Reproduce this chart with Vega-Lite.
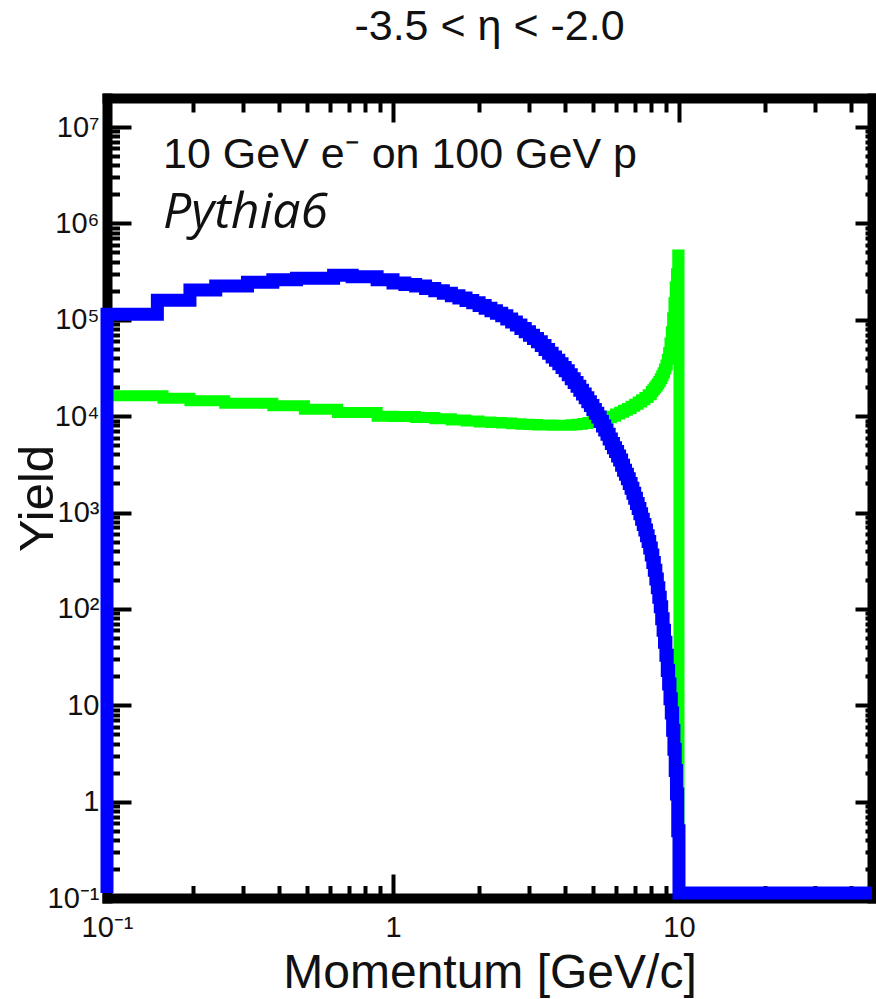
{
  "$schema": "https://vega.github.io/schema/vega-lite/v6.json",
  "width": 765,
  "height": 800,
  "autosize": {"type": "none"},
  "padding": {"left": 107, "top": 98, "right": 4, "bottom": 101},
  "background": "white",
  "config": {"view": {"stroke": null}},
  "title": {
    "text": "-3.5 < η < -2.0",
    "fontSize": 43,
    "font": "Liberation Sans",
    "fontWeight": "normal",
    "color": "#111111",
    "anchor": "middle",
    "frame": "group",
    "baseline": "alphabetic",
    "offset": 13
  },
  "datasets": {
    "blue": [
      {"p": 0.1, "yield": 0.113},
      {"p": 0.1, "yield": 114000},
      {"p": 0.15, "yield": 159000},
      {"p": 0.195, "yield": 203000},
      {"p": 0.24, "yield": 224000},
      {"p": 0.31, "yield": 245000},
      {"p": 0.38, "yield": 260000},
      {"p": 0.46, "yield": 270000},
      {"p": 0.62, "yield": 290000},
      {"p": 0.72, "yield": 280000},
      {"p": 0.88, "yield": 260000},
      {"p": 1.0, "yield": 240000},
      {"p": 1.1, "yield": 232000},
      {"p": 1.2, "yield": 224000},
      {"p": 1.3, "yield": 211000},
      {"p": 1.4, "yield": 200000},
      {"p": 1.5, "yield": 188000},
      {"p": 1.6, "yield": 178000},
      {"p": 1.7, "yield": 168000},
      {"p": 1.8, "yield": 158000},
      {"p": 1.9, "yield": 150000},
      {"p": 2.0, "yield": 141000},
      {"p": 2.1, "yield": 132000},
      {"p": 2.2, "yield": 124000},
      {"p": 2.3, "yield": 117000},
      {"p": 2.4, "yield": 110000},
      {"p": 2.5, "yield": 102000},
      {"p": 2.6, "yield": 95000},
      {"p": 2.7, "yield": 88000},
      {"p": 2.8, "yield": 81000},
      {"p": 2.9, "yield": 75000},
      {"p": 3.0, "yield": 69000},
      {"p": 3.1, "yield": 64000},
      {"p": 3.2, "yield": 59000},
      {"p": 3.3, "yield": 54000},
      {"p": 3.4, "yield": 49000},
      {"p": 3.5, "yield": 45000},
      {"p": 3.6, "yield": 41000},
      {"p": 3.7, "yield": 38000},
      {"p": 3.8, "yield": 35000},
      {"p": 3.9, "yield": 32000},
      {"p": 4.0, "yield": 29500},
      {"p": 4.1, "yield": 26900},
      {"p": 4.2, "yield": 24500},
      {"p": 4.3, "yield": 22400},
      {"p": 4.4, "yield": 20400},
      {"p": 4.5, "yield": 18600},
      {"p": 4.6, "yield": 17000},
      {"p": 4.7, "yield": 15500},
      {"p": 4.8, "yield": 14100},
      {"p": 4.9, "yield": 12900},
      {"p": 5.0, "yield": 11700},
      {"p": 5.1, "yield": 10700},
      {"p": 5.2, "yield": 9800},
      {"p": 5.3, "yield": 8800},
      {"p": 5.4, "yield": 7900},
      {"p": 5.5, "yield": 7200},
      {"p": 5.6, "yield": 6500},
      {"p": 5.7, "yield": 5800},
      {"p": 5.8, "yield": 5200},
      {"p": 5.9, "yield": 4700},
      {"p": 6.0, "yield": 4300},
      {"p": 6.1, "yield": 3850},
      {"p": 6.2, "yield": 3500},
      {"p": 6.3, "yield": 3100},
      {"p": 6.4, "yield": 2750},
      {"p": 6.5, "yield": 2500},
      {"p": 6.6, "yield": 2240},
      {"p": 6.7, "yield": 2000},
      {"p": 6.8, "yield": 1780},
      {"p": 6.9, "yield": 1580},
      {"p": 7.0, "yield": 1410},
      {"p": 7.1, "yield": 1240},
      {"p": 7.2, "yield": 1100},
      {"p": 7.3, "yield": 970},
      {"p": 7.4, "yield": 850},
      {"p": 7.5, "yield": 750},
      {"p": 7.6, "yield": 660},
      {"p": 7.7, "yield": 575},
      {"p": 7.8, "yield": 500},
      {"p": 7.9, "yield": 427},
      {"p": 8.0, "yield": 363},
      {"p": 8.1, "yield": 302},
      {"p": 8.2, "yield": 251},
      {"p": 8.3, "yield": 204},
      {"p": 8.4, "yield": 166},
      {"p": 8.5, "yield": 132},
      {"p": 8.6, "yield": 105},
      {"p": 8.7, "yield": 79},
      {"p": 8.8, "yield": 60},
      {"p": 8.9, "yield": 45},
      {"p": 9.0, "yield": 33},
      {"p": 9.1, "yield": 23},
      {"p": 9.2, "yield": 16.6},
      {"p": 9.3, "yield": 11.7},
      {"p": 9.4, "yield": 8.3},
      {"p": 9.5, "yield": 5.5},
      {"p": 9.6, "yield": 3.5},
      {"p": 9.7, "yield": 2.1},
      {"p": 9.8, "yield": 1.2},
      {"p": 9.9, "yield": 0.5},
      {"p": 10.0, "yield": 0.113},
      {"p": 47.3, "yield": 0.113}
    ],
    "green": [
      {"p": 0.1, "yield": 16300},
      {"p": 0.157, "yield": 15300},
      {"p": 0.195, "yield": 14400},
      {"p": 0.258, "yield": 13600},
      {"p": 0.38, "yield": 12800},
      {"p": 0.49, "yield": 11800},
      {"p": 0.64, "yield": 10900},
      {"p": 0.88, "yield": 10000},
      {"p": 1.0, "yield": 9900},
      {"p": 1.2, "yield": 9700},
      {"p": 1.4, "yield": 9400},
      {"p": 1.6, "yield": 9100},
      {"p": 1.8, "yield": 8900},
      {"p": 2.0, "yield": 8700},
      {"p": 2.2, "yield": 8600},
      {"p": 2.4, "yield": 8500},
      {"p": 2.6, "yield": 8350},
      {"p": 2.8, "yield": 8250},
      {"p": 3.0, "yield": 8170},
      {"p": 3.2, "yield": 8100},
      {"p": 3.4, "yield": 8070},
      {"p": 3.6, "yield": 8050},
      {"p": 3.8, "yield": 8050},
      {"p": 4.0, "yield": 8050},
      {"p": 4.2, "yield": 8130},
      {"p": 4.4, "yield": 8260},
      {"p": 4.6, "yield": 8400},
      {"p": 4.8, "yield": 8600},
      {"p": 5.0, "yield": 8800},
      {"p": 5.2, "yield": 9060},
      {"p": 5.4, "yield": 9300},
      {"p": 5.6, "yield": 9640},
      {"p": 5.8, "yield": 10000},
      {"p": 6.0, "yield": 10500},
      {"p": 6.2, "yield": 11000},
      {"p": 6.4, "yield": 11500},
      {"p": 6.6, "yield": 12000},
      {"p": 6.8, "yield": 12700},
      {"p": 7.0, "yield": 13300},
      {"p": 7.2, "yield": 14000},
      {"p": 7.4, "yield": 14800},
      {"p": 7.6, "yield": 15600},
      {"p": 7.8, "yield": 16700},
      {"p": 8.0, "yield": 18000},
      {"p": 8.1, "yield": 18800},
      {"p": 8.2, "yield": 19700},
      {"p": 8.3, "yield": 20700},
      {"p": 8.4, "yield": 21700},
      {"p": 8.5, "yield": 22900},
      {"p": 8.6, "yield": 24400},
      {"p": 8.7, "yield": 26200},
      {"p": 8.8, "yield": 28200},
      {"p": 8.9, "yield": 30800},
      {"p": 9.0, "yield": 33900},
      {"p": 9.1, "yield": 39000},
      {"p": 9.2, "yield": 45700},
      {"p": 9.3, "yield": 57500},
      {"p": 9.4, "yield": 75000},
      {"p": 9.5, "yield": 105000},
      {"p": 9.6, "yield": 150000},
      {"p": 9.7, "yield": 220000},
      {"p": 9.8, "yield": 300000},
      {"p": 9.9, "yield": 470000},
      {"p": 10.0, "yield": 0.113},
      {"p": 47.3, "yield": 0.113}
    ]
  },
  "resolve": {"axis": {"x": "independent", "y": "independent"}},
  "layer": [
    {
      "data": {"name": "green"},
      "mark": {"type": "line", "color": "#00ff00", "strokeWidth": 11, "interpolate": "step-after", "strokeJoin": "miter", "strokeCap": "butt", "clip": false},
      "encoding": {
        "order": {"value": null},
        "x": {
          "field": "p", "type": "quantitative",
          "scale": {"type": "log", "domain": [0.1, 47.3], "nice": false},
          "axis": {
            "orient": "top",
            "values": [0.1, 0.2, 0.3, 0.4, 0.5, 0.6, 0.7, 0.8, 0.9, 1, 2, 3, 4, 5, 6, 7, 8, 9, 10, 20, 30, 40],
            "labels": false, "title": null, "grid": false,
            "domainColor": "black", "domainWidth": 10, "domainCap": "square",
            "tickColor": "black", "tickWidth": 4,
            "tickSize": {"condition": {"test": "abs(log(datum.value)/LN10 - round(log(datum.value)/LN10)) < 0.01", "value": -24}, "value": -14}
          }
        },
        "y": {
          "field": "yield", "type": "quantitative",
          "scale": {"type": "log", "domain": [0.1, 20000000], "nice": false},
          "axis": {
            "orient": "right",
            "values": [0.1, 0.2, 0.3, 0.4, 0.5, 0.6, 0.7, 0.8, 0.9, 1, 2, 3, 4, 5, 6, 7, 8, 9, 10, 20, 30, 40, 50, 60, 70, 80, 90, 100, 200, 300, 400, 500, 600, 700, 800, 900, 1000, 2000, 3000, 4000, 5000, 6000, 7000, 8000, 9000, 10000, 20000, 30000, 40000, 50000, 60000, 70000, 80000, 90000, 100000, 200000, 300000, 400000, 500000, 600000, 700000, 800000, 900000, 1000000, 2000000, 3000000, 4000000, 5000000, 6000000, 7000000, 8000000, 9000000, 10000000],
            "labels": false, "title": null, "grid": false,
            "domainColor": "black", "domainWidth": 10, "domainCap": "square",
            "tickColor": "black", "tickWidth": 4,
            "tickSize": {"condition": {"test": "abs(log(datum.value)/LN10 - round(log(datum.value)/LN10)) < 0.01", "value": -17}, "value": -7}
          }
        }
      }
    },
    {
      "data": {"name": "blue"},
      "mark": {"type": "line", "color": "#0000ff", "strokeWidth": 13, "interpolate": "step-after", "strokeJoin": "miter", "strokeCap": "butt", "clip": false},
      "encoding": {
        "order": {"value": null},
        "x": {
          "field": "p", "type": "quantitative",
          "scale": {"type": "log", "domain": [0.1, 47.3], "nice": false},
          "axis": {
            "orient": "bottom",
            "values": [0.1, 0.2, 0.3, 0.4, 0.5, 0.6, 0.7, 0.8, 0.9, 1, 2, 3, 4, 5, 6, 7, 8, 9, 10, 20, 30, 40],
            "labelExpr": "abs(log(datum.value)/LN10 - round(log(datum.value)/LN10)) > 0.01 ? '' : (datum.value < 0.5 ? '10⁻¹' : (datum.value < 5 ? '1' : '10'))",
            "labelFont": "Liberation Sans", "labelFontSize": 29, "labelColor": "#111111",
            "labelPadding": 39, "labelOverlap": false, "labelFlush": false, "labelBound": false,
            "grid": false,
            "domainColor": "black", "domainWidth": 10, "domainCap": "square",
            "tickColor": "black", "tickWidth": 4,
            "tickSize": {"condition": {"test": "abs(log(datum.value)/LN10 - round(log(datum.value)/LN10)) < 0.01", "value": -24}, "value": -12.5},
            "title": "Momentum [GeV/c]",
            "titleFont": "Liberation Sans", "titleFontSize": 48, "titleFontWeight": "normal", "titleColor": "#111111",
            "titleBaseline": "alphabetic", "titleY": 89
          }
        },
        "y": {
          "field": "yield", "type": "quantitative",
          "scale": {"type": "log", "domain": [0.1, 20000000], "nice": false},
          "axis": {
            "orient": "left",
            "values": [0.1, 0.2, 0.3, 0.4, 0.5, 0.6, 0.7, 0.8, 0.9, 1, 2, 3, 4, 5, 6, 7, 8, 9, 10, 20, 30, 40, 50, 60, 70, 80, 90, 100, 200, 300, 400, 500, 600, 700, 800, 900, 1000, 2000, 3000, 4000, 5000, 6000, 7000, 8000, 9000, 10000, 20000, 30000, 40000, 50000, 60000, 70000, 80000, 90000, 100000, 200000, 300000, 400000, 500000, 600000, 700000, 800000, 900000, 1000000, 2000000, 3000000, 4000000, 5000000, 6000000, 7000000, 8000000, 9000000, 10000000],
            "labelExpr": "abs(log(datum.value)/LN10 - round(log(datum.value)/LN10)) > 0.01 ? '' : ['10⁻¹','1','10','10²','10³','10⁴','10⁵','10⁶','10⁷'][round(log(datum.value)/LN10) + 1]",
            "labelFont": "Liberation Sans", "labelFontSize": 29, "labelColor": "#111111",
            "labelPadding": 32, "labelOverlap": false, "labelFlush": false, "labelBound": false,
            "grid": false,
            "domainColor": "black", "domainWidth": 10, "domainCap": "square",
            "tickColor": "black", "tickWidth": 4,
            "tickSize": {"condition": {"test": "abs(log(datum.value)/LN10 - round(log(datum.value)/LN10)) < 0.01", "value": -24}, "value": -12.5},
            "title": "Yield",
            "titleFont": "Liberation Sans", "titleFontSize": 49, "titleFontWeight": "normal", "titleColor": "#111111",
            "titleBaseline": "alphabetic", "titleX": -55, "titleY": 400, "titleAngle": 270, "titleAlign": "center"
          }
        }
      }
    },
    {
      "data": {"values": [{"label": "10 GeV e⁻ on 100 GeV p"}]},
      "mark": {"type": "text", "align": "left", "baseline": "alphabetic", "font": "Liberation Sans", "fontSize": 43, "color": "#111111"},
      "encoding": {
        "text": {"field": "label"},
        "x": {"datum": 0.157, "type": "quantitative", "scale": {"type": "log", "domain": [0.1, 47.3], "nice": false}, "axis": null},
        "y": {"datum": 3740000, "type": "quantitative", "scale": {"type": "log", "domain": [0.1, 20000000], "nice": false}, "axis": null}
      }
    },
    {
      "data": {"values": [{"label": "Pythia6"}]},
      "mark": {"type": "text", "align": "left", "baseline": "alphabetic", "font": "Open Sans", "fontStyle": "italic", "fontSize": 50, "color": "#111111"},
      "encoding": {
        "text": {"field": "label"},
        "x": {"datum": 0.157, "type": "quantitative", "scale": {"type": "log", "domain": [0.1, 47.3], "nice": false}, "axis": null},
        "y": {"datum": 890000, "type": "quantitative", "scale": {"type": "log", "domain": [0.1, 20000000], "nice": false}, "axis": null}
      }
    }
  ]
}
